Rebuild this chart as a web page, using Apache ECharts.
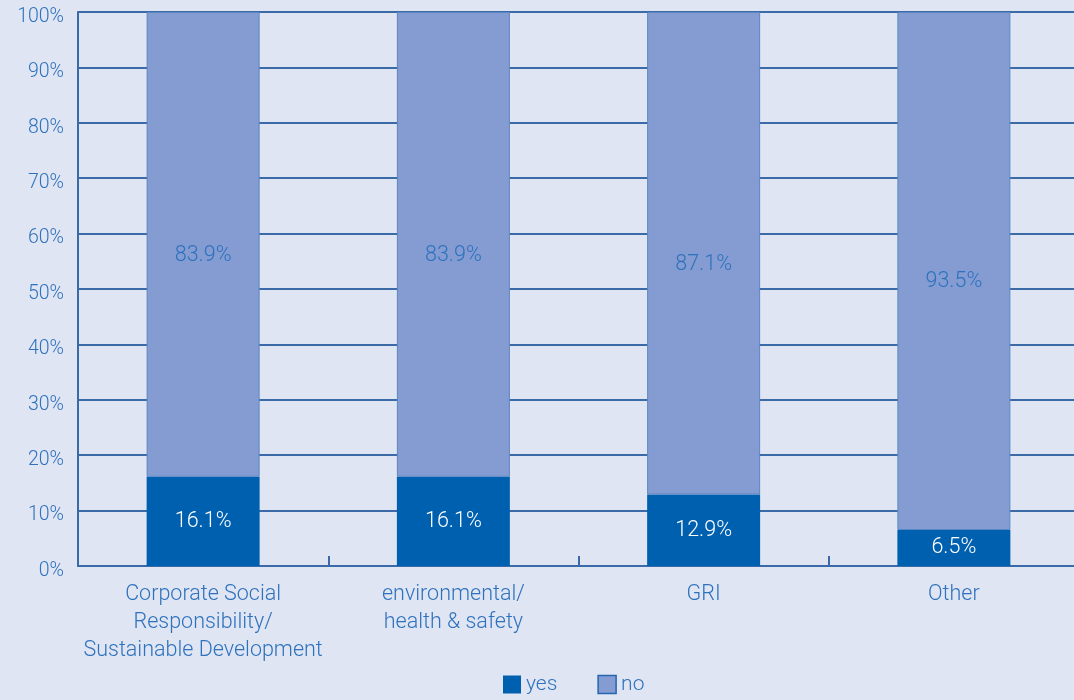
<!DOCTYPE html>
<html>
<head>
<meta charset="utf-8">
<script src="https://cdn.jsdelivr.net/npm/echarts@6/dist/echarts.min.js"></script>
<style>
  html, body { margin: 0; padding: 0; background: #e0e5f3; }
  #main { width: 1074px; height: 700px; }
</style>
</head>
<body>
<div id="main"></div>
<script>
var categories = [
  'Corporate Social\nResponsibility/\nSustainable Development',
  'environmental/\nhealth & safety',
  'GRI',
  'Other'
]
var yesValues = [16.1, 16.1, 12.9, 6.5]
var noValues = [83.9, 83.9, 87.1, 93.5]

var blueText = '#2e72bd'
var font = 'Roboto'

var myChart = echarts.init(document.getElementById('main'))
myChart.setOption({
  backgroundColor: '#e0e5f3',
  textStyle: { fontFamily: font },
  grid: {
    left: 78,
    top: 12,
    width: 1001,
    height: 554,
    outerBoundsMode: 'none',
    containLabel: false
  },
  legend: {
    bottom: 0,
    left: 498,
    icon: 'rect',
    itemWidth: 18,
    itemHeight: 18,
    itemGap: 40,
    itemTextGap: 9,
    textStyle: { color: blueText, fontSize: 21, fontWeight: 300, fontFamily: font },
    data: [
      { name: 'yes', itemStyle: { color: '#0060b0', borderWidth: 0 } },
      { name: 'no', itemStyle: { color: '#849cd2', borderColor: '#2466b0', borderWidth: 1.5 } }
    ]
  },
  xAxis: {
    type: 'category',
    data: categories,
    axisLine: { lineStyle: { color: '#3a6aa8', width: 2 } },
    axisTick: { show: true, inside: true, length: 10, lineStyle: { color: '#3a6aa8', width: 2 } },
    axisLabel: {
      color: blueText,
      fontSize: 21.5,
      fontWeight: 300,
      lineHeight: 28,
      margin: 15,
      interval: 0
    }
  },
  yAxis: {
    type: 'value',
    min: 0,
    max: 100,
    interval: 10,
    axisLine: { show: true, lineStyle: { color: '#3a6aa8', width: 2 } },
    axisTick: { show: false },
    axisLabel: {
      formatter: '{v|{value}%}',
      margin: 14,
      rich: {
        v: {
          color: blueText,
          fontSize: 19.5,
          fontWeight: 300,
          fontFamily: font,
          padding: [10, 0, 0, 0]
        }
      }
    },
    splitLine: { lineStyle: { color: '#3a6aa8', width: 2 } }
  },
  series: [
    {
      name: 'yes',
      type: 'bar',
      stack: 'total',
      barWidth: 113,
      data: yesValues,
      itemStyle: { color: '#0060b0' },
      label: {
        show: true,
        position: 'inside',
        formatter: '{c}%',
        color: '#ffffff',
        fontSize: 21.5,
        fontWeight: 300
      }
    },
    {
      name: 'no',
      type: 'bar',
      stack: 'total',
      barWidth: 113,
      data: noValues,
      itemStyle: { color: '#849cd2', borderColor: '#5b87c2', borderWidth: 1 },
      label: {
        show: true,
        position: 'inside',
        offset: [0, 11],
        formatter: '{c}%',
        color: blueText,
        fontSize: 21.5,
        fontWeight: 300
      }
    }
  ]
})
</script>
</body>
</html>
